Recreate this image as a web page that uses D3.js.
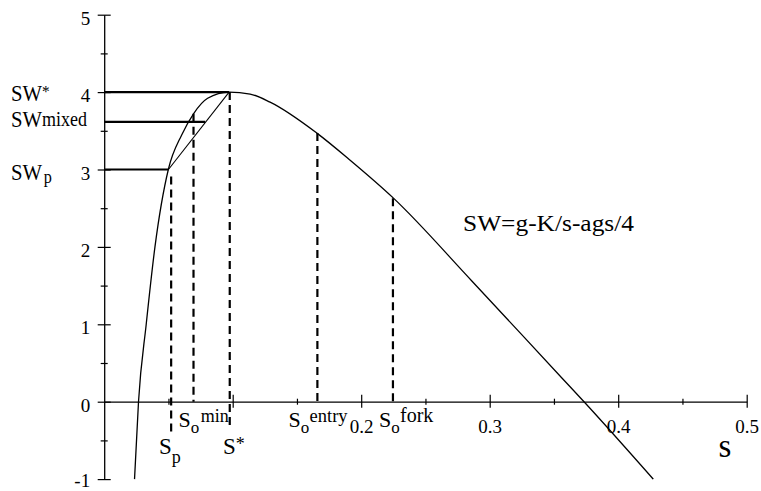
<!DOCTYPE html>
<html>
<head>
<meta charset="utf-8">
<script src="https://cdn.jsdelivr.net/npm/d3@7"></script>
<style>
  html, body { margin: 0; padding: 0; background: #fff; }
  svg { display: block; }
  svg text, svg tspan { font-family: "Liberation Serif", "Tinos", "Times New Roman", "DejaVu Serif", serif !important; fill: #000; }
</style>
</head>
<body>
<svg id="chart" width="761" height="491"></svg>
<script>
// ---- data ----
const curveS  = [0.0236, 0.0267, 0.0327, 0.0395, 0.0499, 0.0604, 0.0695, 0.0805, 0.0972, 0.1136, 0.1291, 0.1655, 0.1914, 0.2251, 0.2861, 0.3560, 0.3734, 0.4273];
const curveSW = [-1.0,   0.0,    1.0,    2.0,    3.0,    3.45,   3.72,   3.92,   4.0,    3.975,  3.87,   3.47,   3.12,   2.63,   1.56,   0.31,   0.0,    -1.0];

const yMajorTicks = [-1, 0, 1, 2, 3, 4, 5];
const yMinorTicks = [-0.5, 0.5, 1.5, 2.5, 3.5, 4.5];
const xMajorTicks = [0.1, 0.2, 0.3, 0.4, 0.5];
const xMinorTicks = [0.05, 0.15, 0.25, 0.35, 0.45];
const xTickLabels = [0.2, 0.3, 0.4, 0.5];

// welfare levels: horizontal lines from the axis to the curve / chord
const levelNames  = ["SW*", "SWmixed", "SWp"];
const levelValues = [4.0, 3.615, 3.0];
const levelEndS   = [0.0972, 0.0786, 0.0500];

// chord from (s_p, SW_p) to (s*, SW*)
const chordS  = [0.0500, 0.0972];
const chordSW = [3.0, 4.0];

// dashed markers
const markerNames  = ["Sp", "Somin", "S*", "Soentry", "Sofork"];
const markerS      = [0.0521, 0.0695, 0.0977, 0.1659, 0.2247];
const markerTop    = [2.91, 3.72, 4.0, 3.47, 2.63];
const markerBottom = [-0.39, 0.0, -0.32, 0.0, 0.0];

const formulaText = "SW=g-K/s-ags/4";
const xAxisTitle = "s";

// ---- drawing ----
const FONT = "'Liberation Serif', 'Tinos', 'Times New Roman', 'DejaVu Serif', serif";
const svg = d3.select("#chart");
const x = d3.scaleLinear().domain([0, 0.5]).range([104.2, 746.7]);
const y = d3.scaleLinear().domain([-1, 5]).range([479.1, 14.7]);

// label made of one text element with base text and sub/superscript tspans
function label(x0, y0, size, parts, sx = 1) {
  const t = svg.append("text")
    .attr("transform", `translate(${x0},${y0}) scale(${sx},1)`)
    .attr("font-size", size).attr("font-family", FONT);
  parts.forEach(p => {
    const ts = t.append("tspan").text(p.t);
    if (p.size) ts.attr("font-size", p.size);
    if (p.dy) ts.attr("dy", p.dy);
    if (p.dx) ts.attr("dx", p.dx);
  });
  return t;
}

// X axis
const isMajorX = d => xMajorTicks.some(v => Math.abs(v - d) < 1e-9);
const xAll = xMajorTicks.concat(xMinorTicks).sort((a, b) => a - b);
const gx = svg.append("g").attr("transform", `translate(0,${y(0)})`)
  .call(d3.axisBottom(x).tickValues(xAll).tickSizeOuter(0)
    .tickFormat(d => xTickLabels.some(v => Math.abs(v - d) < 1e-9) ? d3.format(".1f")(d) : ""));
gx.attr("font-family", FONT).attr("font-size", 19);
gx.select(".domain").attr("stroke", "#000").attr("stroke-width", 1.3);
gx.selectAll(".tick line").attr("stroke", "#000").attr("stroke-width", 1.2)
  .attr("y1", d => isMajorX(d) ? -7 : -3)
  .attr("y2", d => isMajorX(d) ? 6 : 3);
gx.selectAll(".tick text").attr("y", 31.5).attr("dy", null)
  .attr("font-size", 19).attr("font-family", FONT).attr("fill", "#000");

// Y axis
const yAll = yMajorTicks.concat(yMinorTicks).sort((a, b) => a - b);
const gy = svg.append("g").attr("transform", `translate(${x(0)},0)`)
  .call(d3.axisLeft(y).tickValues(yAll).tickSizeOuter(0)
    .tickFormat(d => Number.isInteger(d) ? String(d) : ""));
gy.attr("font-family", FONT).attr("font-size", 19);
gy.select(".domain").attr("stroke", "#000").attr("stroke-width", 1.3);
gy.selectAll(".tick line").attr("stroke", "#000").attr("stroke-width", 1.2)
  .attr("x1", d => Number.isInteger(d) ? -6.5 : -3.5)
  .attr("x2", d => Number.isInteger(d) ? 6.5 : 3.5);
gy.selectAll(".tick text").attr("x", -14).attr("dy", null)
  .attr("y", d => d === -1 ? 7 : 9.5)
  .attr("font-size", 19).attr("font-family", FONT).attr("fill", "#000");

// horizontal level lines
levelValues.forEach((v, i) => {
  svg.append("line")
    .attr("x1", x(0)).attr("x2", x(levelEndS[i]))
    .attr("y1", y(v)).attr("y2", y(v))
    .attr("stroke", "#000").attr("stroke-width", 2.1);
});

// chord
svg.append("line")
  .attr("x1", x(chordS[0])).attr("y1", y(chordSW[0]))
  .attr("x2", x(chordS[1])).attr("y2", y(chordSW[1]))
  .attr("stroke", "#000").attr("stroke-width", 1.1);

// dashed markers
markerS.forEach((s, i) => {
  svg.append("line")
    .attr("x1", x(s)).attr("x2", x(s))
    .attr("y1", y(markerTop[i])).attr("y2", y(markerBottom[i]))
    .attr("stroke", "#000").attr("stroke-width", 2.2)
    .attr("stroke-dasharray", "8,5");
});

// welfare curve
const pts = curveS.map((s, i) => [s, curveSW[i]]);
svg.append("path").datum(pts)
  .attr("d", d3.line().x(d => x(d[0])).y(d => y(d[1])).curve(d3.curveMonotoneX))
  .attr("fill", "none").attr("stroke", "#000").attr("stroke-width", 1.3);

// left level labels
label(11, 101, 23, [{ t: "SW" }, { t: "*", size: 17, dy: -4 }], 0.9);
label(11, 127, 23, [{ t: "SW" }, { t: "mixed", size: 20, dy: -1.5 }], 0.9);
label(11, 179.5, 23, [{ t: "SW" }, { t: "p", size: 18, dy: 3, dx: 2 }], 0.9);

// marker labels below the axis
label(159, 454, 23, [{ t: "S" }, { t: "p", size: 18, dy: 9 }]);
label(178.5, 426.5, 22, [{ t: "S" }, { t: "o", size: 17, dy: 6.5 }, { t: "min", size: 18, dy: -11.5, dx: 1.5 }]);
label(223, 454, 23, [{ t: "S" }, { t: "*", size: 18, dy: -4 }]);
label(288.5, 426.5, 22, [{ t: "S" }, { t: "o", size: 17, dy: 6.5 }, { t: "entry", size: 18.5, dy: -11.5, dx: 0.3 }]);
label(379, 426.5, 22, [{ t: "S" }, { t: "o", size: 17, dy: 6.5 }, { t: "fork", size: 20, dy: -11.5, dx: 0.3 }]);

// formula and axis title
svg.append("text").attr("x", 463).attr("y", 230.5).attr("font-size", 24)
  .attr("font-family", FONT).attr("textLength", 171).attr("lengthAdjust", "spacingAndGlyphs")
  .text(formulaText);
svg.append("text").attr("x", 718.5).attr("y", 457).attr("font-size", 33)
  .attr("font-family", FONT).text(xAxisTitle);
</script>
</body>
</html>
